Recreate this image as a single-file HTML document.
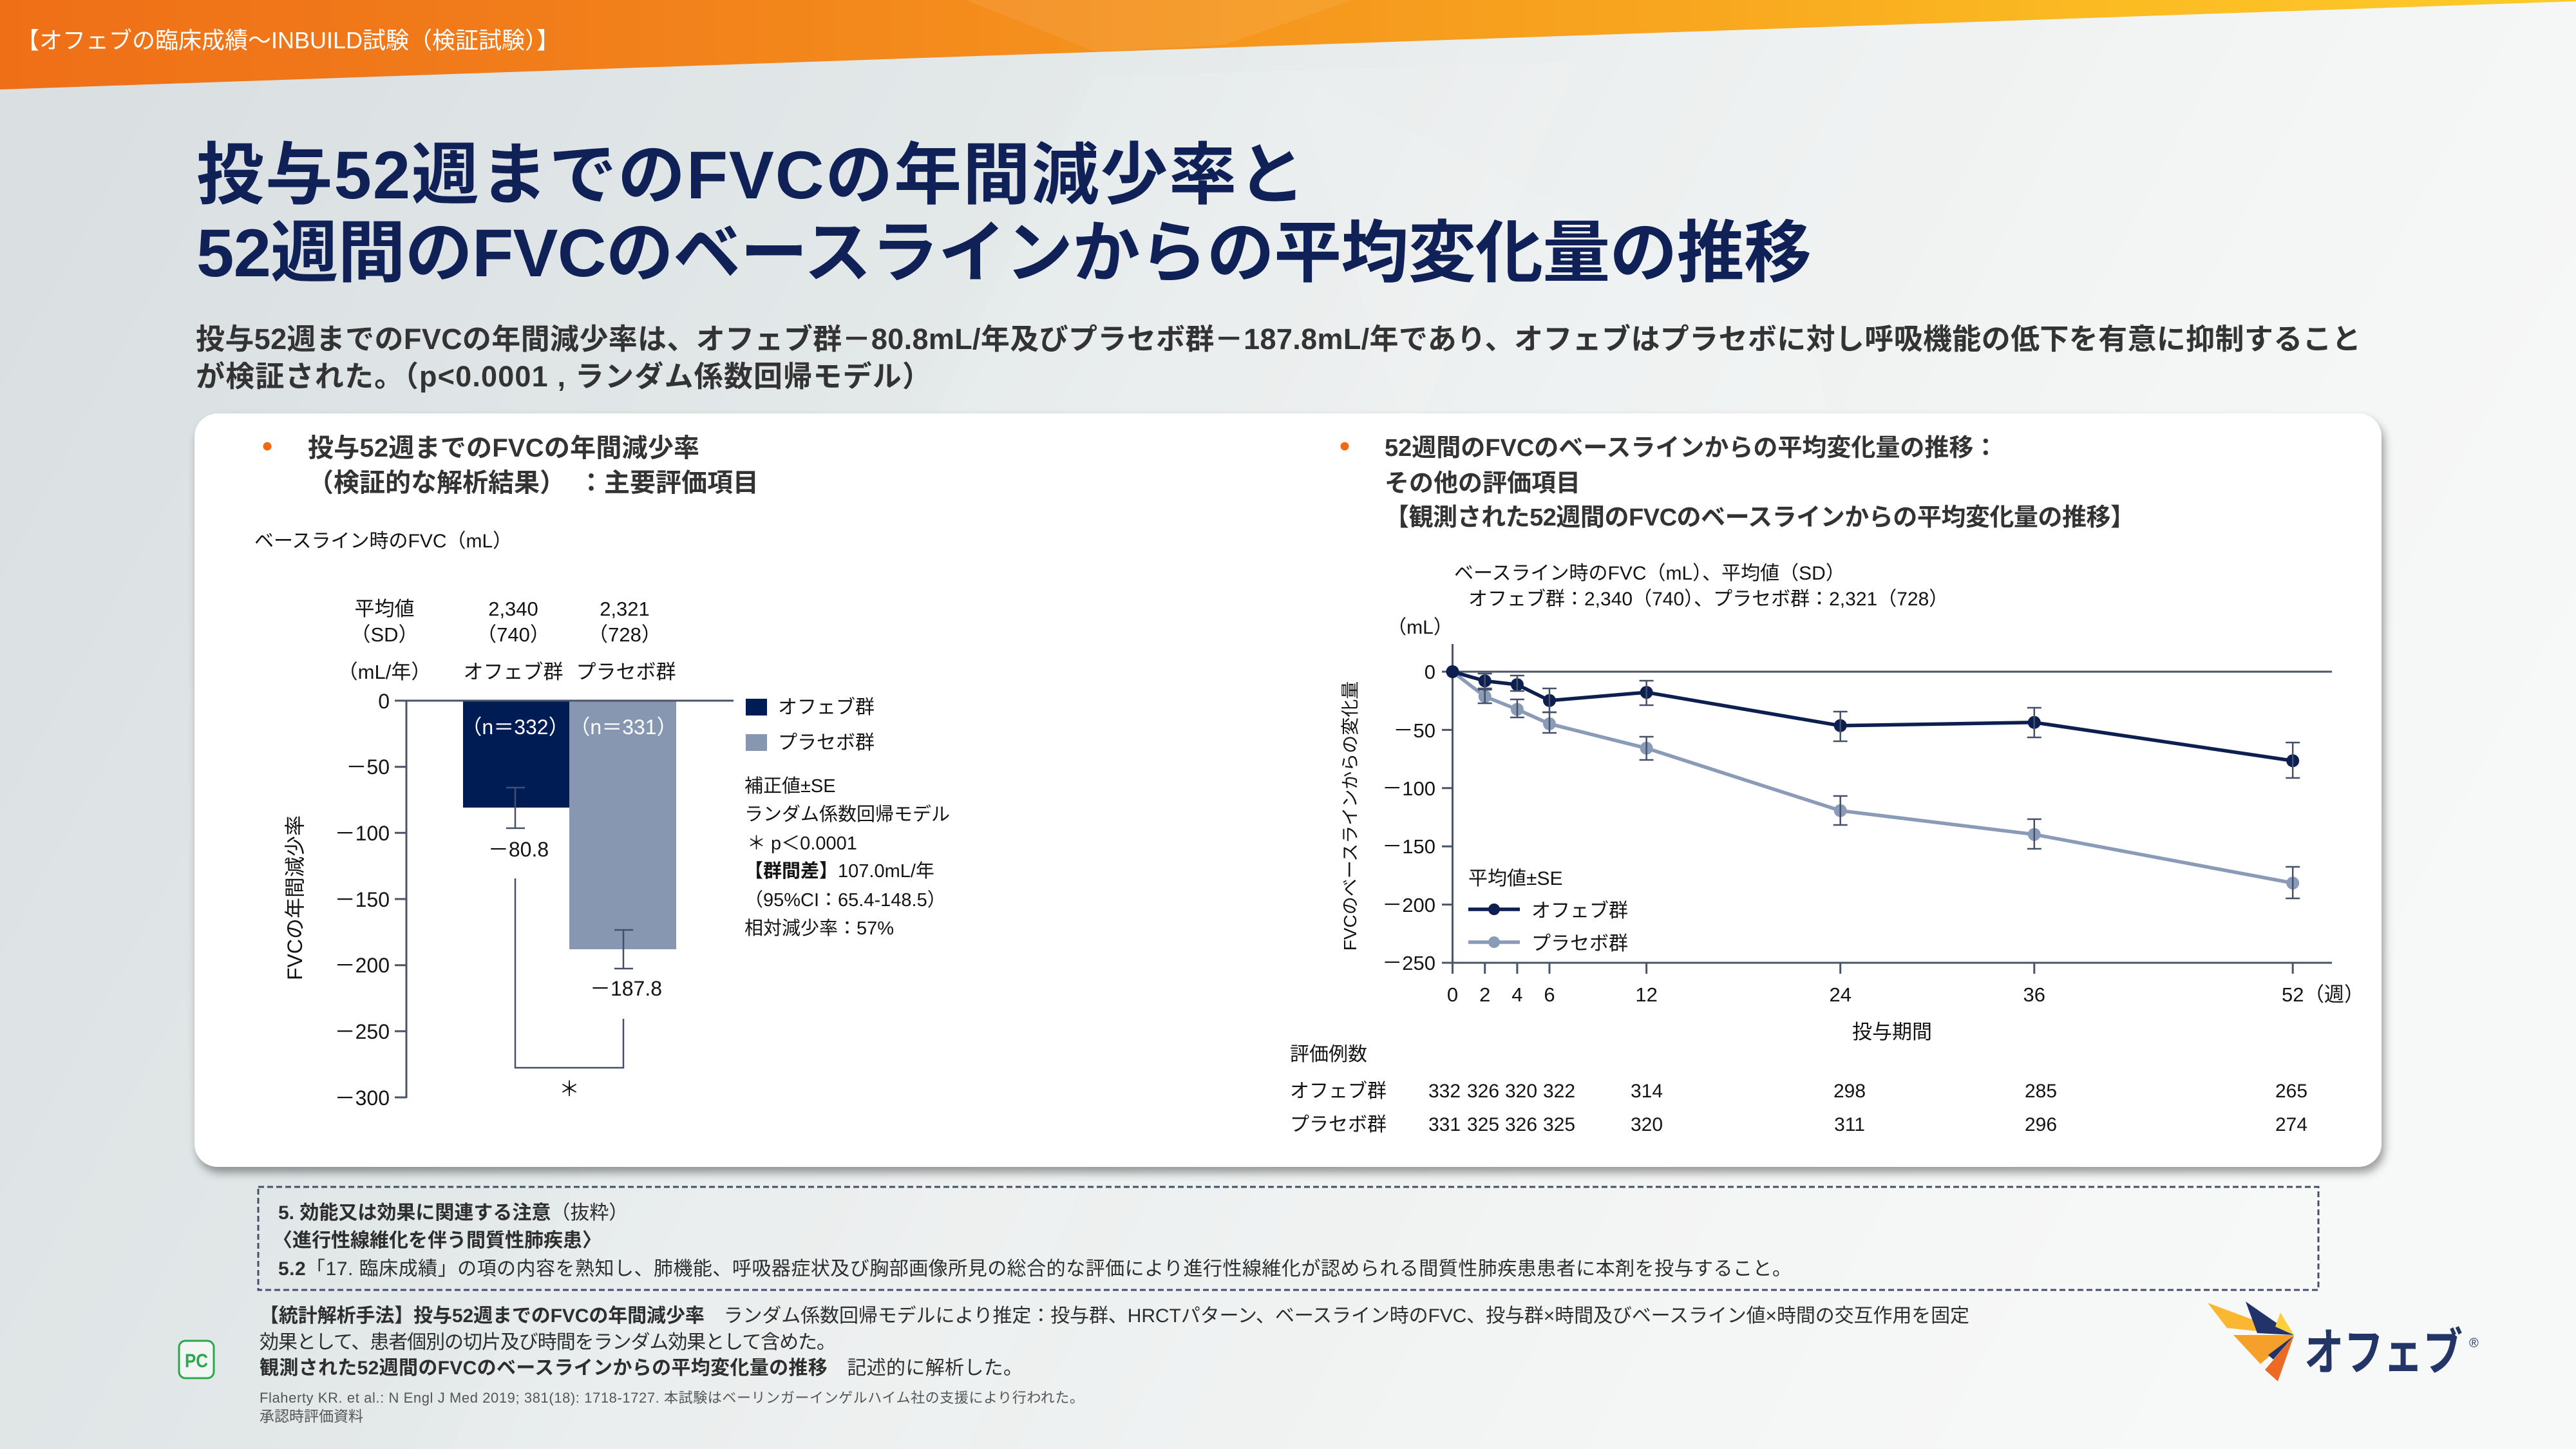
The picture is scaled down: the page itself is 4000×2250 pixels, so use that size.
<!DOCTYPE html>
<html lang="ja">
<head>
<meta charset="utf-8">
<style>
html,body{margin:0;padding:0;width:4000px;height:2250px;overflow:hidden;background:#e6eaeb;}
svg{display:block;}
text{font-family:"Liberation Sans","Noto Sans CJK JP",sans-serif;}
.b{font-weight:bold;}
.ax{stroke:#4a5468;stroke-width:3;fill:none;}
.eb{stroke:#44506a;stroke-width:2.5;fill:none;}
.k{fill:#141414;}
</style>
</head>
<body>
<svg width="4000" height="2250" viewBox="0 0 4000 2250" xmlns="http://www.w3.org/2000/svg">
<defs>
  <linearGradient id="bg" x1="0" y1="0.2" x2="1" y2="0.5">
    <stop offset="0" stop-color="#dae0e2"/>
    <stop offset="0.3" stop-color="#e2e7e8"/>
    <stop offset="0.55" stop-color="#edf0f0"/>
    <stop offset="0.8" stop-color="#f4f5f5"/>
    <stop offset="1" stop-color="#f7f8f8"/>
  </linearGradient>
  <linearGradient id="og" x1="0" y1="0" x2="1" y2="0">
    <stop offset="0" stop-color="#ef6f17"/>
    <stop offset="0.2" stop-color="#f17c1a"/>
    <stop offset="0.45" stop-color="#f5931d"/>
    <stop offset="0.65" stop-color="#f8a61f"/>
    <stop offset="0.82" stop-color="#fbbb22"/>
    <stop offset="1" stop-color="#fdcb2b"/>
  </linearGradient>
  <filter id="sh" x="-3%" y="-5%" width="106%" height="115%">
    <feDropShadow dx="4" dy="9" stdDeviation="7" flood-color="#000" flood-opacity="0.38"/>
  </filter>
</defs>

<!-- background -->
<rect x="0" y="0" width="4000" height="2250" fill="url(#bg)"/>
<polygon points="1700,120 2450,95 1500,2250 700,2250" fill="#ffffff" opacity="0.1"/>
<polygon points="2000,110 2800,500 3300,2250 2700,2250" fill="#ffffff" opacity="0.08"/>

<!-- orange header band -->
<polygon points="0,0 4000,0 4000,2 0,139" fill="url(#og)"/>
<polygon points="1500,0 2100,0 1900,70 1700,80" fill="#ffffff" opacity="0.08"/>
<text x="25" y="75" font-size="36" fill="#ffffff">【オフェブの臨床成績～INBUILD試験（検証試験）】</text>

<!-- title -->
<text x="305" y="308" font-size="105" class="b" fill="#0f2157" textLength="1722">投与52週までのFVCの年間減少率と</text>
<text x="305" y="429" font-size="105" class="b" fill="#0f2157" textLength="2508">52週間のFVCのベースラインからの平均変化量の推移</text>

<!-- subtitle -->
<text x="304" y="542" font-size="45" class="b" fill="#333333" textLength="3362">投与52週までのFVCの年間減少率は、オフェブ群－80.8mL/年及びプラセボ群－187.8mL/年であり、オフェブはプラセボに対し呼吸機能の低下を有意に抑制すること</text>
<text x="304" y="600" font-size="45" class="b" fill="#333333" textLength="1142">が検証された。（p&lt;0.0001 , ランダム係数回帰モデル）</text>

<!-- card -->
<rect x="302" y="642" width="3396" height="1170" rx="36" ry="36" fill="#ffffff" filter="url(#sh)"/>

<!-- ===== LEFT CHART ===== -->
<circle cx="415" cy="693" r="6.5" fill="#f26a10"/>
<text x="478" y="709" font-size="40" class="b" fill="#333333" textLength="608">投与52週までのFVCの年間減少率</text>
<text x="478" y="763" font-size="40" class="b" fill="#333333">（検証的な解析結果）　：主要評価項目</text>

<text x="395" y="850" font-size="30" class="k">ベースライン時のFVC（mL）</text>

<g font-size="31" class="k" text-anchor="middle">
  <text x="597" y="956">平均値</text>
  <text x="597" y="996">（SD）</text>
  <text x="597" y="1054">（mL/年）</text>
  <text x="797" y="956">2,340</text>
  <text x="797" y="996">（740）</text>
  <text x="797" y="1054">オフェブ群</text>
  <text x="970" y="956">2,321</text>
  <text x="970" y="996">（728）</text>
  <text x="972" y="1054">プラセボ群</text>
</g>

<!-- bars -->
<rect x="719" y="1088" width="165" height="166" fill="#001c54"/>
<rect x="884" y="1088" width="166" height="386" fill="#8797b1"/>

<!-- axes -->
<line class="ax" x1="631" y1="1088" x2="631" y2="1705"/>
<line class="ax" x1="613" y1="1088" x2="1139" y2="1088"/>
<g class="ax">
  <line x1="613" y1="1190.7" x2="631" y2="1190.7"/>
  <line x1="613" y1="1293.3" x2="631" y2="1293.3"/>
  <line x1="613" y1="1396" x2="631" y2="1396"/>
  <line x1="613" y1="1498.7" x2="631" y2="1498.7"/>
  <line x1="613" y1="1601.3" x2="631" y2="1601.3"/>
  <line x1="613" y1="1704" x2="631" y2="1704"/>
</g>
<g font-size="32" class="k" text-anchor="end">
  <text x="605" y="1100">0</text>
  <text x="605" y="1202">－50</text>
  <text x="605" y="1305">－100</text>
  <text x="605" y="1408">－150</text>
  <text x="605" y="1510">－200</text>
  <text x="605" y="1613">－250</text>
  <text x="605" y="1716">－300</text>
</g>
<text transform="translate(469,1394) rotate(-90)" font-size="32" class="k" text-anchor="middle">FVCの年間減少率</text>

<!-- bar labels -->
<g font-size="32" fill="#ffffff" text-anchor="middle">
  <text x="800" y="1140">（n＝332）</text>
  <text x="968" y="1140">（n＝331）</text>
</g>

<!-- error bars -->
<path class="eb" d="M800,1223 V1286 M786,1223 H815 M786,1286 H815"/>
<path class="eb" d="M968,1444 V1504 M954,1444 H983 M954,1504 H983"/>

<g font-size="32" class="k" text-anchor="middle">
  <text x="805" y="1330">－80.8</text>
  <text x="972" y="1546">－187.8</text>
  <text x="884" y="1702">＊</text>
</g>
<polyline class="eb" points="800,1364 800,1658 968,1658 968,1582"/>

<!-- left legend -->
<rect x="1158" y="1085" width="33" height="26" fill="#001c54"/>
<rect x="1158" y="1140" width="33" height="26" fill="#8797b1"/>
<g font-size="30" class="k">
  <text x="1208" y="1108">オフェブ群</text>
  <text x="1208" y="1163">プラセボ群</text>
</g>
<g font-size="29" class="k">
  <text x="1156" y="1230">補正値±SE</text>
  <text x="1156" y="1274">ランダム係数回帰モデル</text>
  <text x="1160" y="1319">＊ p＜0.0001</text>
  <text x="1156" y="1362"><tspan class="b">【群間差】</tspan>107.0mL/年</text>
  <text x="1156" y="1407">（95%CI：65.4-148.5）</text>
  <text x="1156" y="1451">相対減少率：57%</text>
</g>

<!-- ===== RIGHT CHART ===== -->
<circle cx="2088" cy="693" r="6.5" fill="#f26a10"/>
<g font-size="38" class="b" fill="#333333">
  <text x="2150" y="708">52週間のFVCのベースラインからの平均変化量の推移：</text>
  <text x="2150" y="763">その他の評価項目</text>
  <text x="2150" y="816" textLength="1165">【観測された52週間のFVCのベースラインからの平均変化量の推移】</text>
</g>

<g font-size="30" class="k">
  <text x="2258" y="900">ベースライン時のFVC（mL）、平均値（SD）</text>
  <text x="2280" y="940">オフェブ群：2,340（740）、プラセボ群：2,321（728）</text>
  <text x="2205" y="984" text-anchor="middle">（mL）</text>
</g>

<!-- axes -->
<line class="ax" x1="2255.5" y1="1000" x2="2255.5" y2="1512"/>
<line class="ax" x1="2239" y1="1043" x2="3621" y2="1043"/>
<line class="ax" x1="2239" y1="1495" x2="3621" y2="1495"/>
<g class="ax">
  <line x1="2239" y1="1133.4" x2="2255.5" y2="1133.4"/>
  <line x1="2239" y1="1223.8" x2="2255.5" y2="1223.8"/>
  <line x1="2239" y1="1314.2" x2="2255.5" y2="1314.2"/>
  <line x1="2239" y1="1404.6" x2="2255.5" y2="1404.6"/>
  <line x1="2305.7" y1="1495" x2="2305.7" y2="1512"/>
  <line x1="2355.9" y1="1495" x2="2355.9" y2="1512"/>
  <line x1="2406" y1="1495" x2="2406" y2="1512"/>
  <line x1="2556.6" y1="1495" x2="2556.6" y2="1512"/>
  <line x1="2857.7" y1="1495" x2="2857.7" y2="1512"/>
  <line x1="3158.8" y1="1495" x2="3158.8" y2="1512"/>
  <line x1="3560.2" y1="1495" x2="3560.2" y2="1512"/>
</g>
<g font-size="31" class="k" text-anchor="end">
  <text x="2229" y="1054">0</text>
  <text x="2229" y="1145">－50</text>
  <text x="2229" y="1235">－100</text>
  <text x="2229" y="1325">－150</text>
  <text x="2229" y="1416">－200</text>
  <text x="2229" y="1506">－250</text>
</g>
<g font-size="31" class="k" text-anchor="middle">
  <text x="2255.5" y="1555">0</text>
  <text x="2305.7" y="1555">2</text>
  <text x="2355.9" y="1555">4</text>
  <text x="2406" y="1555">6</text>
  <text x="2556.6" y="1555">12</text>
  <text x="2857.7" y="1555">24</text>
  <text x="3158.8" y="1555">36</text>
  <text x="3560.2" y="1555">52</text>
  <text x="2938" y="1613">投与期間</text>
</g>
<text x="3578" y="1555" font-size="31" class="k">（週）</text>
<text transform="translate(2106,1267) rotate(-90)" font-size="28" class="k" text-anchor="middle">FVCのベースラインからの変化量</text>

<!-- series: placebo -->
<polyline points="2255.5,1043 2305.7,1081.5 2355.9,1101.5 2406,1124 2556.6,1161.8 2857.7,1258.8 3158.8,1295.7 3560.2,1371.2" fill="none" stroke="#8a9bb8" stroke-width="5.5" stroke-linejoin="round"/>
<g fill="#8a9bb8">
  <circle cx="2305.7" cy="1081.5" r="10"/>
  <circle cx="2355.9" cy="1101.5" r="10"/>
  <circle cx="2406" cy="1124" r="10"/>
  <circle cx="2556.6" cy="1161.8" r="10"/>
  <circle cx="2857.7" cy="1258.8" r="10"/>
  <circle cx="3158.8" cy="1295.7" r="10"/>
  <circle cx="3560.2" cy="1371.2" r="10"/>
</g>
<path class="eb" d="
M2305.7,1071 V1092 M2294.7,1071 H2316.7 M2294.7,1092 H2316.7
M2355.9,1086 V1114 M2344.9,1086 H2366.9 M2344.9,1114 H2366.9
M2406,1106 V1138 M2395,1106 H2417 M2395,1138 H2417
M2556.6,1144 V1180 M2545.6,1144 H2567.6 M2545.6,1180 H2567.6
M2857.7,1236 V1281 M2846.7,1236 H2868.7 M2846.7,1281 H2868.7
M3158.8,1272 V1318 M3147.8,1272 H3169.8 M3147.8,1318 H3169.8
M3560.2,1346 V1395 M3549.2,1346 H3571.2 M3549.2,1395 H3571.2"/>

<!-- series: ofev -->
<polyline points="2255.5,1043 2305.7,1057.3 2355.9,1063.1 2406,1087.8 2556.6,1075.1 2857.7,1126.8 3158.8,1121.8 3560.2,1181.3" fill="none" stroke="#0c1f50" stroke-width="5.5" stroke-linejoin="round"/>
<g fill="#0c1f50">
  <circle cx="2255.5" cy="1043" r="10"/>
  <circle cx="2305.7" cy="1057.3" r="10"/>
  <circle cx="2355.9" cy="1063.1" r="10"/>
  <circle cx="2406" cy="1087.8" r="10"/>
  <circle cx="2556.6" cy="1075.1" r="10"/>
  <circle cx="2857.7" cy="1126.8" r="10"/>
  <circle cx="3158.8" cy="1121.8" r="10"/>
  <circle cx="3560.2" cy="1181.3" r="10"/>
</g>
<path class="eb" d="
M2305.7,1046 V1069 M2294.7,1046 H2316.7 M2294.7,1069 H2316.7
M2355.9,1049 V1073 M2344.9,1049 H2366.9 M2344.9,1073 H2366.9
M2406,1069 V1106 M2395,1069 H2417 M2395,1106 H2417
M2556.6,1057 V1095 M2545.6,1057 H2567.6 M2545.6,1095 H2567.6
M2857.7,1105 V1151 M2846.7,1105 H2868.7 M2846.7,1151 H2868.7
M3158.8,1099 V1145 M3147.8,1099 H3169.8 M3147.8,1145 H3169.8
M3560.2,1153 V1208 M3549.2,1153 H3571.2 M3549.2,1208 H3571.2"/>

<!-- right legend -->
<text x="2280" y="1374" font-size="30" class="k">平均値±SE</text>
<line x1="2280" y1="1412" x2="2360" y2="1412" stroke="#0c1f50" stroke-width="5.5"/>
<circle cx="2320" cy="1412" r="9" fill="#0c1f50"/>
<text x="2378" y="1424" font-size="30" class="k">オフェブ群</text>
<line x1="2280" y1="1463" x2="2360" y2="1463" stroke="#8a9bb8" stroke-width="5.5"/>
<circle cx="2320" cy="1463" r="9" fill="#8a9bb8"/>
<text x="2378" y="1475" font-size="30" class="k">プラセボ群</text>

<!-- table -->
<g font-size="30" class="k">
  <text x="2003" y="1647">評価例数</text>
  <text x="2003" y="1704">オフェブ群</text>
  <text x="2003" y="1756">プラセボ群</text>
</g>
<g font-size="30" class="k" text-anchor="middle">
  <text x="2243" y="1704">332</text><text x="2303" y="1704">326</text><text x="2362" y="1704">320</text><text x="2421" y="1704">322</text>
  <text x="2557" y="1704">314</text><text x="2872" y="1704">298</text><text x="3169" y="1704">285</text><text x="3558" y="1704">265</text>
  <text x="2243" y="1756">331</text><text x="2303" y="1756">325</text><text x="2362" y="1756">326</text><text x="2421" y="1756">325</text>
  <text x="2557" y="1756">320</text><text x="2872" y="1756">311</text><text x="3169" y="1756">296</text><text x="3558" y="1756">274</text>
</g>

<!-- ===== dashed note box ===== -->
<rect x="401" y="1843" width="3199" height="160" fill="none" stroke="#44506a" stroke-width="3" stroke-dasharray="9,5"/>
<g font-size="30" fill="#2e2e2e">
  <text x="432" y="1893"><tspan class="b">5. 効能又は効果に関連する注意</tspan>（抜粋）</text>
  <text x="424" y="1936" class="b">〈進行性線維化を伴う間質性肺疾患〉</text>
  <text x="432" y="1980" textLength="2350"><tspan class="b">5.2</tspan>「17. 臨床成績」の項の内容を熟知し、肺機能、呼吸器症状及び胸部画像所見の総合的な評価により進行性線維化が認められる間質性肺疾患患者に本剤を投与すること。</text>
</g>

<!-- footer -->
<g font-size="30" fill="#2e2e2e">
  <text x="403" y="2053" textLength="2655"><tspan class="b">【統計解析手法】投与52週までのFVCの年間減少率</tspan>　ランダム係数回帰モデルにより推定：投与群、HRCTパターン、ベースライン時のFVC、投与群×時間及びベースライン値×時間の交互作用を固定</text>
  <text x="403" y="2094" textLength="895">効果として、患者個別の切片及び時間をランダム効果として含めた。</text>
  <text x="403" y="2134" textLength="1185"><tspan class="b">観測された52週間のFVCのベースラインからの平均変化量の推移</tspan>　記述的に解析した。</text>
</g>
<g font-size="22" fill="#555555">
  <text x="403" y="2178" textLength="1280">Flaherty KR. et al.: N Engl J Med 2019; 381(18): 1718-1727. 本試験はベーリンガーインゲルハイム社の支援により行われた。</text>
  <text x="403" y="2207" font-size="23">承認時評価資料</text>
</g>

<!-- PC icon -->
<rect x="278" y="2082" width="54" height="58" rx="10" ry="10" fill="#f3f5f5" stroke="#27a84a" stroke-width="3"/>
<text x="305" y="2123" font-size="30" class="b" fill="#27a84a" text-anchor="middle" textLength="36" lengthAdjust="spacingAndGlyphs">PC</text>

<!-- logo -->
<g>
  <polygon points="3428,2023 3458,2062 3562,2073" fill="#f9b732"/>
  <polygon points="3487,2021 3505,2070 3562,2073" fill="#22336a"/>
  <polygon points="3541,2038 3562,2073 3533,2060" fill="#fcd03a"/>
  <polygon points="3468,2073 3510,2118 3562,2073" fill="#f4a02a"/>
  <polygon points="3522,2104 3530,2111 3562,2074" fill="#22336a"/>
  <polygon points="3517,2127 3537,2145 3562,2074" fill="#ec6a24"/>
  <text x="3578" y="2127" font-size="78" class="b" fill="#233567" textLength="246" lengthAdjust="spacingAndGlyphs">オフェブ</text>
  <text x="3834" y="2092" font-size="20" fill="#233567">®</text>
</g>
</svg>
</body>
</html>
